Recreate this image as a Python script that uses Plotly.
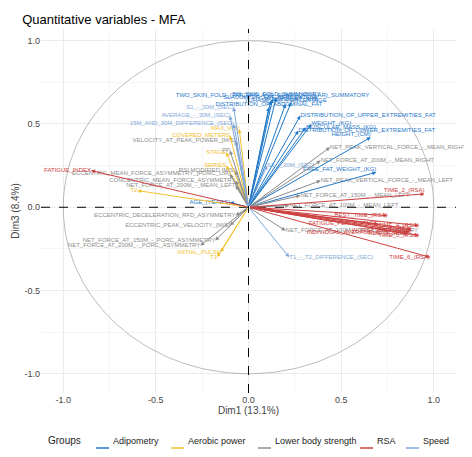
import numpy as np
import plotly.graph_objects as go

adi_names = ["SIX_SKIN_FOLD_SUMMATORY","SLAUGHTER_FAT_PERCENTAGE","TWO_SKIN_FOLD_(TRICEPS_AND_SUBESCAPULAR)_SUMMATORY",
             "FAT_WEIGHT_(KG)","YUHASZ_FAT_PERCENTAGE","DISTRIBUTION_OF_ABDOMINAL_FAT","DISTRIBUTION_OF_UPPER_EXTREMITIES_FAT",
             "MUSCULAR_MASS_(KG)","WEIGHT_(KG)","HEIGHT_(CM)","DISTRIBUTION_OF_LOWER_EXTREMITIES_FAT","FREE_FAT_WEIGHT_(KG)","AGE_(YEARS)"]
adi_x = [0.15,0.12,0.13,0.23,0.20,0.11,0.28,0.31,0.34,0.66,0.27,0.69,-0.10]
adi_y = [0.66,0.64,0.65,0.63,0.62,0.60,0.55,0.48,0.50,0.42,0.46,0.21,0.03]

aer_names = ["MAX_VO2","COVERED_METERS","STAGE","SERIES","T2","T1","INITIAL_PULSE"]
aer_x = [-0.05,-0.10,-0.12,-0.12,-0.60,-0.17,-0.15]
aer_y = [0.47,0.43,0.33,0.25,0.10,-0.30,-0.27]

low_names = ["VELOCITY_AT_PEAK_POWER_[M/S]","PP","RSI MODIFIED [M/S]","ECCENTRIC_MEAN_FORCE_ASYMMETRY_[PORC_L/R]",
             "CONCENTRIC_MEAN_FORCE_ASYMMETRY","NET_FORCE_AT_200M_-_MEAN_LEFT","NET_PEAK_VERTICAL_FORCE_-_MEAN_RIGHT",
             "NET_FORCE_AT_200M_-_MEAN_RIGHT","NET_PEAK_VERTICAL_FORCE_-_MEAN_LEFT","NET_FORCE_AT_150M_-_MEAN_LEFT",
             "NET_FORCE_AT_100M_-_MEAN_LEFT","ECCENTRIC_DECELERATION_RFD_ASYMMETRY","ECCENTRIC_PEAK_VELOCITY_[M/S]",
             "NET_FORCE_AT_150M_-_PORC_ASYMMETRY","NET_FORCE_AT_100M_-_PORC_ASYMMETRY","NET_FORCE_AT_200M_-_PORC_ASYMMETRY"]
low_x = [-0.07,-0.10,-0.07,-0.10,-0.07,-0.07,0.44,0.39,0.39,0.28,0.22,-0.07,-0.10,-0.18,0.20,-0.26]
low_y = [0.40,0.34,0.22,0.20,0.16,0.13,0.36,0.28,0.16,0.07,0.01,-0.05,-0.11,-0.20,-0.14,-0.23]

rsa_names = ["FATIGUE_INDEX","TIME_2_(RSA)","BEST_TIME_(RSA)","TIME_4_(RSA)","TIME_3_(RSA)","TIME_5_(RSA)",
             "TIME_6_(RSA)","TIME_7_(RSA)","WORST_TIME_(RSA)","INDIVIDUAL_AVERAGE_TIME_(RSA)","FATIGUE_PERCENTAGE"]
rsa_x = [-0.85,0.95,0.75,0.92,0.88,0.92,0.98,0.86,0.88,0.87,0.70]
rsa_y = [0.22,0.08,-0.05,-0.11,-0.13,-0.17,-0.30,-0.16,-0.14,-0.15,-0.10]

spd_names = ["S1_-_30M_(SEC)","AVERAGE_-_30M_(SEC)","15M_AND_30M_DIFFERENCE_(SEC)","S2_-_30M_(SEC)","T1_-_T2_DIFFERENCE_(SEC)"]
spd_x = [-0.08,-0.10,-0.08,0.10,0.22]
spd_y = [0.60,0.55,0.50,0.25,-0.30]

groups = [("Adipometry","#1f78c8",adi_names,adi_x,adi_y),
          ("Aerobic power","#f2c12e",aer_names,aer_x,aer_y),
          ("Lower body strength","#8c8c8c",low_names,low_x,low_y),
          ("RSA","#cc4040",rsa_names,rsa_x,rsa_y),
          ("Speed","#7fa8dc",spd_names,spd_x,spd_y)]
legend_px = [88, 163, 250, 352, 398]

def label_pos(x, y, name):
    if x < 0:
        return "middle left"
    if name.endswith("(RSA)") or x > 0.6:
        return "middle left" if y < 0 else "top left"
    if y > 0.58:
        return "top center"
    return "middle right"

L, R, T, B = 33, 24, 21, 72
W, H = 472, 457
pw, ph = W - L - R, H - T - B
px2x = lambda p: (p - L) / pw
py2y = lambda p: (H - B - p) / ph

fig = go.Figure()
t = np.linspace(0, 2*np.pi, 300)
fig.add_trace(go.Scatter(x=np.cos(t), y=np.sin(t), mode="lines", line=dict(color="#aaaaaa", width=0.8),
                         showlegend=False, hoverinfo="skip"))
ann = []
shapes = [dict(type="line", x0=-1.12, x1=1.12, y0=0, y1=0, line=dict(dash="dash", color="black", width=1)),
          dict(type="line", x0=0, x1=0, y0=-1.115, y1=1.07, line=dict(dash="dash", color="black", width=1))]
for name, col, nm, xs, ys in groups:
    for n, x, y in zip(nm, xs, ys):
        ann.append(dict(x=x, y=y, ax=0, ay=0, xref="x", yref="y", axref="x", ayref="y", text="",
                        showarrow=True, arrowhead=2, arrowsize=0.8, arrowwidth=1, arrowcolor=col))
    pos = [label_pos(x, y, n) for n, x, y in zip(nm, xs, ys)]
    fig.add_trace(go.Scatter(x=xs, y=ys, mode="text", text=nm, textposition=pos,
                             textfont=dict(size=6, color=col), showlegend=False, cliponaxis=False))

ly = py2y(440)
ann.append(dict(x=px2x(38), y=ly, xref="paper", yref="paper", text="Groups", showarrow=False,
                xanchor="left", font=dict(size=10, color="#222")))
for (name, col, *_), lx in zip(groups, legend_px):
    shapes.append(dict(type="line", xref="paper", yref="paper", x0=px2x(lx), x1=px2x(lx+13), y0=ly, y1=ly,
                       line=dict(color=col, width=1.5)))
    ann.append(dict(x=px2x(lx+15), y=ly, xref="paper", yref="paper", text=name, showarrow=False,
                    xanchor="left", font=dict(size=9, color="#222")))

fig.update_layout(
    width=W, height=H, paper_bgcolor="white", plot_bgcolor="white",
    margin=dict(l=L, r=R, t=T, b=B), showlegend=False,
    title=dict(text="Quantitative variables - MFA", x=0.03, y=0.985, font=dict(size=13, color="black")),
    font=dict(family="Liberation Sans", color="#444"),
    annotations=ann, shapes=shapes,
)
fig.update_xaxes(range=[-1.12, 1.12], tickvals=[-1, -0.5, 0, 0.5, 1], ticktext=["-1.0","-0.5","0.0","0.5","1.0"],
                 gridcolor="#ebebeb", zeroline=False, title=dict(text="Dim1 (13.1%)", font=dict(size=10), standoff=2),
                 tickfont=dict(size=9), automargin=False,
                 minor=dict(tickvals=[-0.75,-0.25,0.25,0.75], showgrid=True, gridcolor="#f5f5f5"))
fig.update_yaxes(range=[-1.115, 1.07], tickvals=[-1, -0.5, 0, 0.5, 1], ticktext=["-1.0","-0.5","0.0","0.5","1.0"],
                 gridcolor="#ebebeb", zeroline=False, title=dict(text="Dim3 (8.4%)", font=dict(size=10), standoff=2),
                 tickfont=dict(size=9), automargin=False,
                 minor=dict(tickvals=[-0.75,-0.25,0.25,0.75], showgrid=True, gridcolor="#f5f5f5"))
fig.write_html("out.html")
